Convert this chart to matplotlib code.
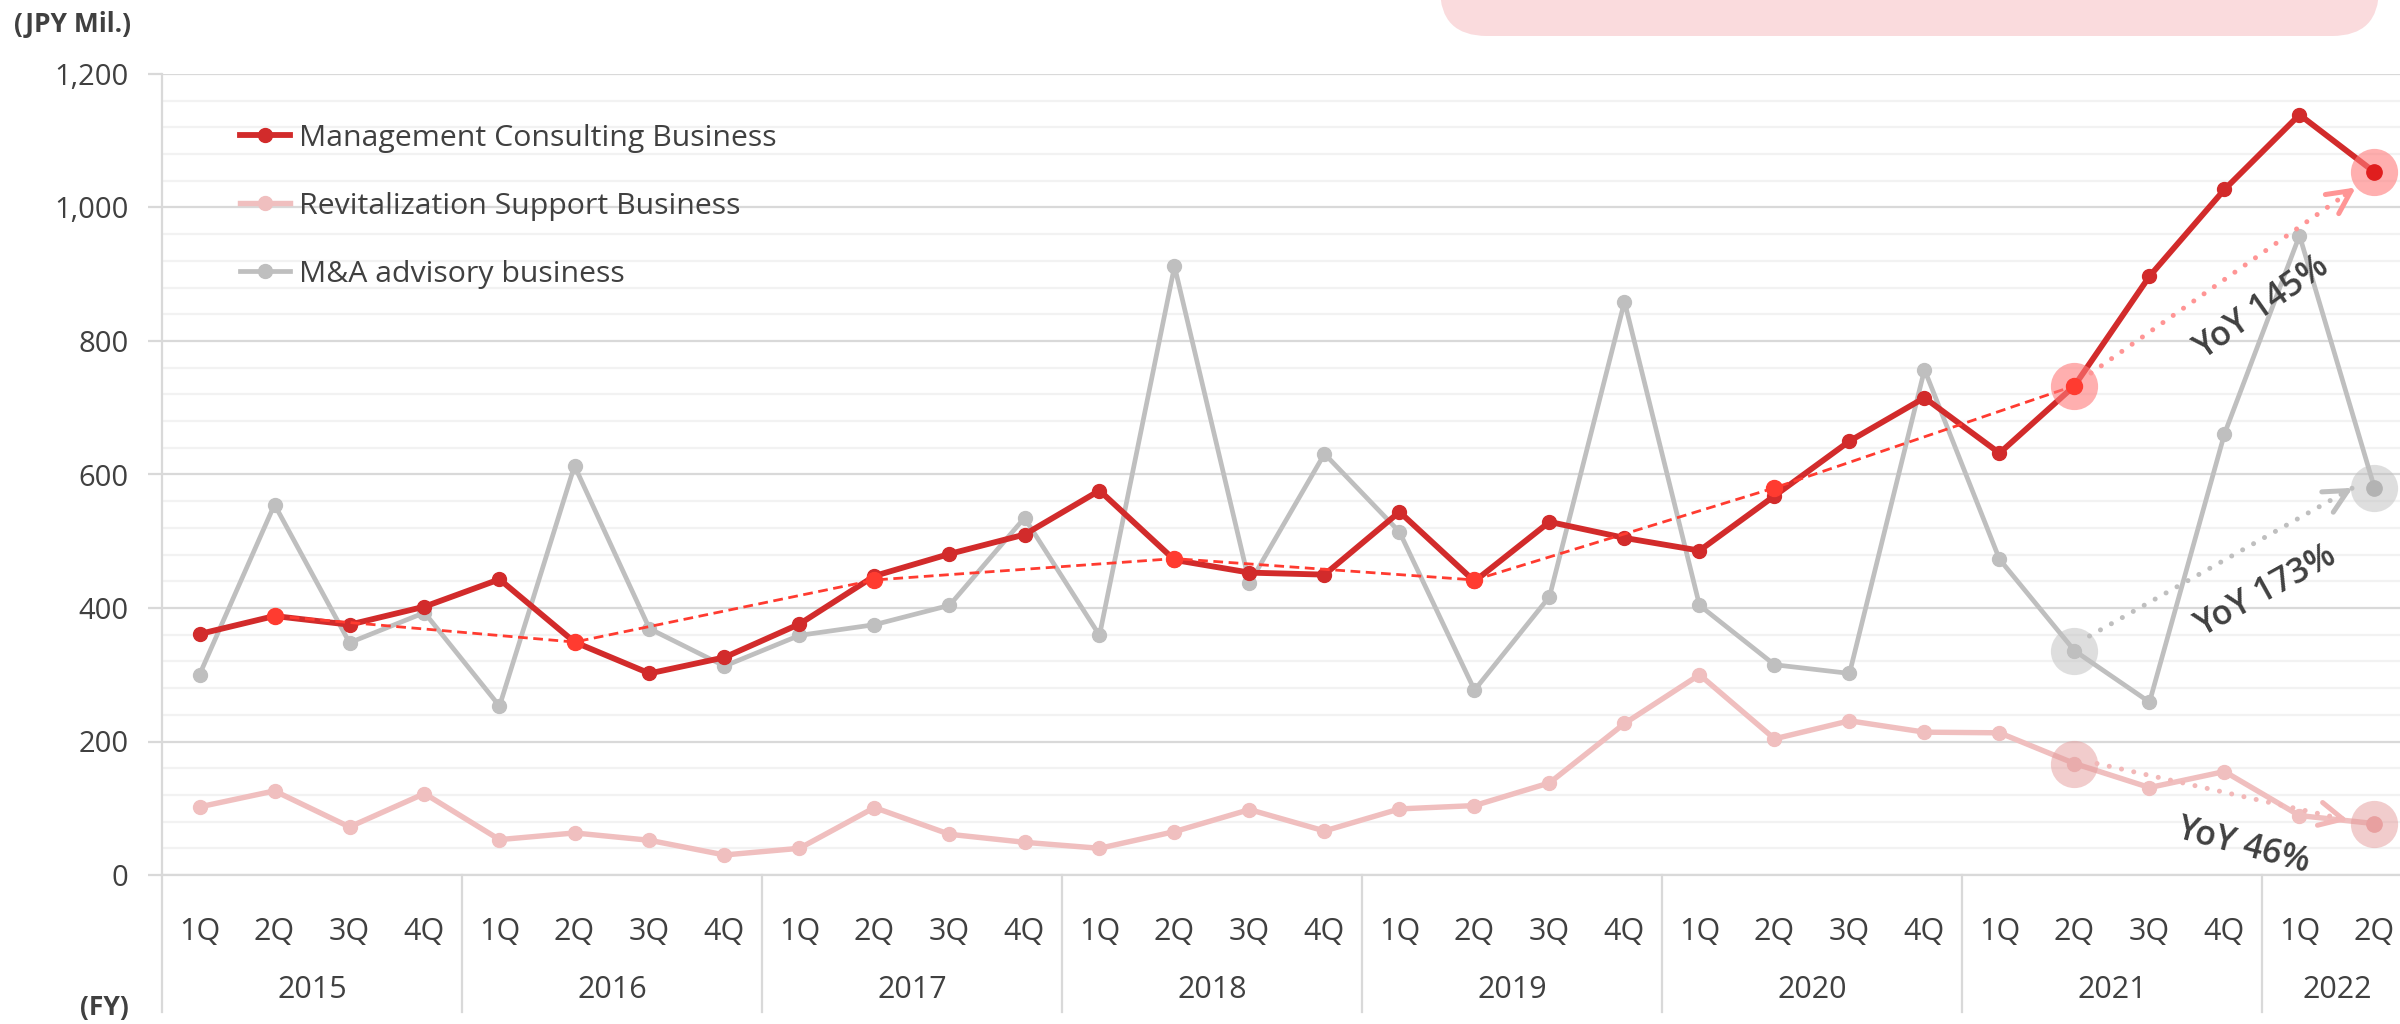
import matplotlib
matplotlib.use("Agg")
import matplotlib.pyplot as plt
from matplotlib.lines import Line2D
from matplotlib.patches import FancyBboxPatch
from matplotlib.transforms import blended_transform_factory

plt.rcParams['font.family'] = ['Open Sans', 'DejaVu Sans']

# ---------------- data ----------------
years = ['2015', '2016', '2017', '2018', '2019', '2020', '2021', '2022']
quarters = ['1Q', '2Q', '3Q', '4Q'] * 7 + ['1Q', '2Q']
year_sizes = [4, 4, 4, 4, 4, 4, 4, 2]

mgmt = [361, 388, 375, 402, 443, 349, 302, 326,
        376, 448, 481, 510, 576, 472, 453, 450,
        544, 440, 529, 505, 486, 568, 650, 715,
        632, 733, 897, 1027, 1139, 1053]
revit = [102, 126, 72, 122, 53, 63, 52, 30,
         40, 101, 61, 49, 40, 65, 98, 66,
         99, 104, 138, 227, 300, 204, 231, 214,
         213, 167, 131, 155, 89, 77]
ma = [300, 555, 348, 393, 253, 613, 369, 313,
      359, 375, 404, 535, 359, 912, 437, 631,
      514, 277, 417, 859, 404, 315, 302, 757,
      473, 336, 259, 661, 958, 580]

trend_idx = [1, 5, 9, 13, 17, 21, 25]
trend_vals = [388, 349, 442, 474, 442, 580, 733]

series_labels = ['Management Consulting Business',
                 'Revitalization Support Business',
                 'M&A advisory business']
yoy_labels = ['YoY 145%', 'YoY 173%', 'YoY 46%']

# ---------------- style ----------------
C_MGMT = '#D22B2B'
C_REV = '#F0BFBF'
C_MA = '#BFBFBF'
C_TREND = '#FF3B30'
C_TXT = '#404040'

W, H = 2400, 1024
fig = plt.figure(figsize=(W / 100, H / 100), dpi=100)
ax = fig.add_axes([162 / W, 1 - 875 / H, 2250 / W, 801 / H])

x = list(range(len(quarters)))

# lines
ax.plot(x, ma, color=C_MA, lw=3.4, marker='o', ms=10, zorder=3)
ax.plot(x, revit, color=C_REV, lw=3.9, marker='o', ms=10, zorder=3)
ax.plot(x, mgmt, color=C_MGMT, lw=4.2, marker='o', ms=10, zorder=4)

# dashed trend through 2Q values
ax.plot(trend_idx, trend_vals, color=C_TREND, lw=2.0, dashes=(3.5, 2),
        zorder=5)
ax.plot(trend_idx, trend_vals, color=C_TREND, lw=0, marker='o', ms=11.5,
        zorder=6)

# highlight circles (2Q21 and 2Q22)
hl = [25, 29]
ax.plot(hl, [mgmt[i] for i in hl], lw=0, marker='o', ms=34,
        color='#FF7A7A', alpha=0.6, zorder=5, markeredgewidth=0)
ax.plot(hl, [ma[i] for i in hl], lw=0, marker='o', ms=34,
        color='#BFBFBF', alpha=0.5, zorder=5, markeredgewidth=0)
ax.plot(hl, [revit[i] for i in hl], lw=0, marker='o', ms=34,
        color='#E49A9A', alpha=0.5, zorder=5, markeredgewidth=0)
ax.plot([29], [mgmt[29]], lw=0, marker='o', ms=11, color='#E01E1E', zorder=7)
ax.plot([29], [ma[29]], lw=0, marker='o', ms=11, color='#B3B3B3', zorder=7)
ax.plot([29], [revit[29]], lw=0, marker='o', ms=11, color='#E8A0A0', zorder=7)


def yoy_arrow(x0, y0, x1, y1, color):
    ax.plot([x0, x1], [y0, y1], color=color, lw=3.6,
            linestyle=(0, (0.01, 2.5)), dash_capstyle='round', zorder=6)
    f = 0.04
    ax.annotate('', xy=(x1, y1), xytext=(x1 - f * (x1 - x0), y1 - f * (y1 - y0)),
                arrowprops=dict(arrowstyle='->,head_length=0.84,head_width=0.42',
                                color=color, lw=3.6, mutation_scale=20,
                                shrinkA=0, shrinkB=0),
                zorder=6)


yoy_arrow(25.22, 752, 28.75, 1030, '#FF9595')
yoy_arrow(25.2, 358, 28.71, 580, '#BFBFBF')
yoy_arrow(25.3, 167, 28.65, 82, '#F2B8B8')

yoy_kw = dict(fontsize=24.5, color=C_TXT, ha='center', va='center',
              fontweight='semibold', zorder=8, rotation_mode='anchor')
ax.text(27.5, 850, yoy_labels[0], rotation=35, **yoy_kw)
ax.text(27.55, 425, yoy_labels[1], rotation=29, **yoy_kw)
ax.text(27.25, 43, yoy_labels[2], rotation=-15, **yoy_kw)

# axes
ax.set_xlim(-0.5, len(quarters) - 0.5)
ax.set_ylim(0, 1200)
ax.set_yticks(range(0, 1201, 200))
ax.set_yticklabels([f'{v:,}' for v in range(0, 1201, 200)])
ax.set_yticks(range(0, 1201, 40), minor=True)
ax.grid(which='major', axis='y', color='#D9D9D9', lw=1.6)
ax.grid(which='minor', axis='y', color='#F2F2F2', lw=1.6)
ax.set_axisbelow(True)
for s in ['top', 'right']:
    ax.spines[s].set_visible(False)
ax.spines['left'].set_color('#D9D9D9')
ax.spines['left'].set_linewidth(1.6)
ax.spines['bottom'].set_color('#D9D9D9')
ax.spines['bottom'].set_linewidth(1.6)
ax.tick_params(axis='y', which='major', length=10, width=1.6, color='#D9D9D9',
               pad=14, labelsize=21, labelcolor=C_TXT)
ax.tick_params(axis='y', which='minor', length=0)
ax.set_xticks(x)
ax.set_xticklabels(quarters)
ax.tick_params(axis='x', length=0, pad=30, labelsize=22, labelcolor=C_TXT)

# year groups
trans = blended_transform_factory(ax.transData, ax.transAxes)
ybot = -(1012 - 875) / 801
start = 0
for yr, n in zip(years, year_sizes):
    ax.plot([start - 0.5, start - 0.5], [0, ybot], transform=trans,
            color='#D9D9D9', lw=1.6, clip_on=False)
    ax.text(start + (n - 1) / 2, -(990 - 875) / 801, yr, transform=trans,
            ha='center', va='center', fontsize=22, color=C_TXT)
    start += n

# legend
handles = [Line2D([], [], color=C_MGMT, lw=4.2, marker='o', ms=10),
           Line2D([], [], color=C_REV, lw=3.9, marker='o', ms=10),
           Line2D([], [], color=C_MA, lw=3.4, marker='o', ms=10)]
leg = ax.legend(handles, series_labels, loc='upper left',
                bbox_to_anchor=(240 / W, 1 - 124 / H),
                bbox_transform=fig.transFigure, frameon=False, fontsize=21.8,
                handlelength=1.65, handletextpad=0.3, labelspacing=1.28,
                borderpad=0, borderaxespad=0)
for t in leg.get_texts():
    t.set_color(C_TXT)

# unit labels
fig.text(72 / W, 1 - 25 / H, '(JPY Mil.)', ha='center', va='center',
         fontsize=19, fontweight='bold', color=C_TXT)
fig.text(104 / W, 1 - 1007 / H, '(FY)', ha='center', va='center',
         fontsize=19, fontweight='bold', color=C_TXT)

# pink banner at top
banner = FancyBboxPatch((14.40, 9.88), 9.39, 2.0,
                        boxstyle='round,pad=0,rounding_size=0.47',
                        transform=fig.dpi_scale_trans, facecolor='#FADBDD',
                        edgecolor='none', clip_on=False)
fig.patches.append(banner)

fig.savefig('out.png', dpi=100)
